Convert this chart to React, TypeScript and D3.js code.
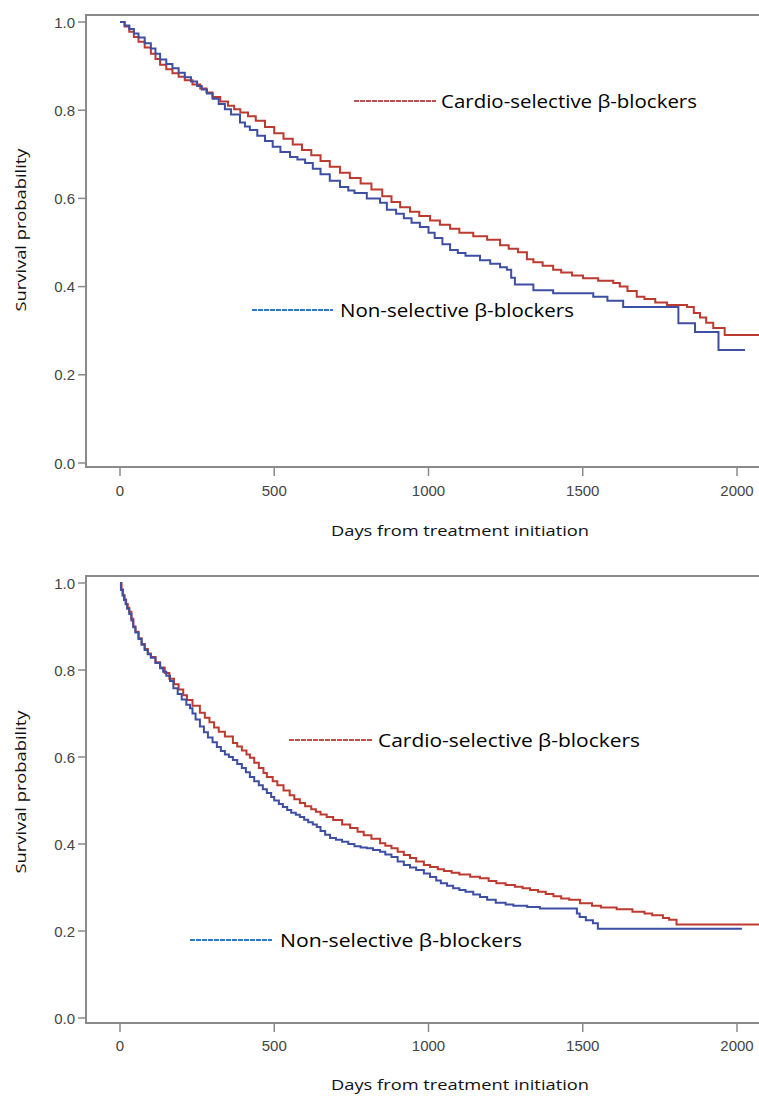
import React from "react";
import * as d3 from "d3";

// ---------- DATA ----------
const xTicks = [0, 500, 1000, 1500, 2000];
const yTicks = [0, 0.2, 0.4, 0.6, 0.8, 1.0];
const xTitle = "Days from treatment initiation";
const yTitle = "Survival probability";
const seriesNames = ["Cardio-selective β-blockers", "Non-selective β-blockers"];

// Panel A (top)
const topCardioDays = [0, 15, 30, 45, 60, 80, 100, 115, 130, 150, 170, 190, 210, 235, 260, 280, 300, 325, 350, 370, 390, 415, 440, 470, 500, 530, 560, 590, 620, 650, 680, 713, 745, 780, 815, 850, 880, 908, 940, 970, 1005, 1037, 1070, 1100, 1145, 1190, 1232, 1260, 1290, 1319, 1340, 1370, 1404, 1430, 1465, 1501, 1550, 1599, 1620, 1645, 1675, 1700, 1735, 1773, 1838, 1860, 1880, 1900, 1923, 1960, 2090];
const topCardioSurv = [1.0, 0.99, 0.978, 0.966, 0.955, 0.942, 0.928, 0.916, 0.903, 0.893, 0.884, 0.876, 0.868, 0.858, 0.849, 0.84, 0.83, 0.82, 0.81, 0.802, 0.795, 0.786, 0.776, 0.762, 0.748, 0.735, 0.722, 0.71, 0.698, 0.685, 0.672, 0.658, 0.646, 0.634, 0.62, 0.605, 0.592, 0.58, 0.57, 0.56, 0.55, 0.54, 0.531, 0.522, 0.514, 0.506, 0.494, 0.486, 0.478, 0.462, 0.455, 0.447, 0.438, 0.432, 0.425, 0.419, 0.413, 0.408, 0.4, 0.39, 0.377, 0.372, 0.364, 0.358, 0.354, 0.34, 0.33, 0.318, 0.306, 0.29, 0.29];

const topNonDays = [0, 15, 30, 45, 60, 80, 100, 115, 130, 150, 170, 190, 210, 230, 250, 265, 282, 300, 320, 340, 360, 389, 405, 421, 445, 470, 495, 520, 551, 575, 600, 625, 650, 680, 713, 740, 760, 800, 843, 865, 895, 920, 945, 972, 1000, 1020, 1045, 1070, 1095, 1120, 1167, 1200, 1232, 1254, 1268, 1280, 1340, 1404, 1534, 1580, 1631, 1810, 1864, 1940, 2026];
const topNonSurv = [1.0, 0.992, 0.984, 0.974, 0.965, 0.952, 0.94, 0.928, 0.915, 0.905, 0.895, 0.885, 0.875, 0.865, 0.855, 0.847, 0.838, 0.826, 0.814, 0.802, 0.79, 0.772, 0.763, 0.755, 0.742, 0.73, 0.717, 0.705, 0.694, 0.688, 0.68, 0.667, 0.655, 0.64, 0.626, 0.618, 0.612, 0.6, 0.59, 0.574, 0.565, 0.555, 0.545, 0.535, 0.522, 0.51, 0.496, 0.483, 0.476, 0.47, 0.46, 0.452, 0.444, 0.438, 0.42, 0.405, 0.392, 0.385, 0.377, 0.368, 0.354, 0.317, 0.297, 0.256, 0.256];

// Panel B (bottom)
const botCardioDays = [0, 5, 10, 15, 20, 25, 30, 37, 43, 50, 60, 70, 80, 90, 100, 115, 130, 145, 160, 175, 190, 205, 217, 235, 259, 275, 290, 305, 320, 340, 366, 380, 395, 410, 421, 435, 450, 465, 476, 495, 510, 530, 550, 565, 583, 600, 620, 635, 650, 670, 691, 720, 746, 770, 790, 815, 843, 860, 880, 900, 920, 940, 960, 985, 1005, 1030, 1050, 1075, 1100, 1135, 1167, 1195, 1220, 1250, 1280, 1305, 1329, 1355, 1380, 1405, 1430, 1456, 1491, 1530, 1559, 1610, 1661, 1700, 1725, 1760, 1780, 1804, 2090];
const botCardioSurv = [1.0, 0.985, 0.972, 0.962, 0.952, 0.943, 0.934, 0.918, 0.9, 0.888, 0.873, 0.86, 0.848, 0.838, 0.83, 0.818, 0.806, 0.793, 0.78, 0.767, 0.755, 0.742, 0.731, 0.718, 0.702, 0.69, 0.68, 0.668, 0.658, 0.647, 0.632, 0.624, 0.615, 0.606, 0.598, 0.587, 0.575, 0.563, 0.554, 0.544, 0.535, 0.523, 0.512, 0.503, 0.494, 0.487, 0.48, 0.474, 0.468, 0.462, 0.455, 0.445, 0.437, 0.428, 0.42, 0.412, 0.402, 0.396, 0.39, 0.382, 0.375, 0.368, 0.36, 0.352, 0.347, 0.342, 0.338, 0.334, 0.33, 0.325, 0.321, 0.315, 0.31, 0.306, 0.302, 0.298, 0.294, 0.29, 0.285, 0.28, 0.275, 0.272, 0.264, 0.258, 0.254, 0.25, 0.244, 0.24, 0.236, 0.23, 0.226, 0.215, 0.215];

const botNonDays = [0, 3, 8, 13, 18, 23, 30, 37, 43, 50, 60, 70, 80, 90, 100, 115, 130, 140, 150, 162, 173, 187, 200, 215, 227, 235, 245, 259, 272, 285, 300, 314, 327, 340, 353, 366, 380, 395, 408, 421, 435, 450, 463, 476, 490, 500, 515, 528, 542, 555, 570, 583, 597, 610, 625, 638, 650, 665, 681, 700, 720, 740, 760, 780, 800, 820, 843, 860, 880, 900, 920, 940, 960, 985, 1005, 1025, 1040, 1060, 1080, 1100, 1120, 1145, 1167, 1190, 1218, 1250, 1275, 1320, 1361, 1472, 1481, 1490, 1510, 1533, 1549, 2016];
const botNonSurv = [1.0, 0.984, 0.971, 0.961, 0.951, 0.941, 0.929, 0.914, 0.898, 0.886, 0.871, 0.858, 0.846, 0.836, 0.828, 0.816, 0.804, 0.796, 0.787, 0.775, 0.758, 0.745, 0.732, 0.72, 0.712, 0.7, 0.686, 0.67, 0.657, 0.645, 0.634, 0.623, 0.614, 0.606, 0.6, 0.593, 0.584, 0.575, 0.565, 0.554, 0.544, 0.535, 0.526, 0.517, 0.508, 0.5, 0.492, 0.485, 0.478, 0.472, 0.467, 0.462, 0.456, 0.45, 0.445, 0.439, 0.43, 0.421, 0.414, 0.41, 0.405, 0.4, 0.395, 0.392, 0.39, 0.386, 0.382, 0.376, 0.37, 0.36, 0.352, 0.346, 0.34, 0.332, 0.324, 0.316, 0.31, 0.304, 0.298, 0.294, 0.29, 0.284, 0.278, 0.272, 0.265, 0.261, 0.258, 0.255, 0.252, 0.252, 0.24, 0.232, 0.225, 0.218, 0.205, 0.205];

// ---------- LAYOUT / STYLE ----------
const W = 759;
const H = 1097;
const RED = "#bc3a2f";
const BLUE = "#3e4fa3";
const LEG_RED = "#c0504d";
const LEG_BLUE = "#2a78d0";
const AXIS = "#8a8a8a";
const TICK_TEXT = "#444";
const LABEL_FONT = "'Open Sans', 'Noto Sans', sans-serif";
const TICK_FONT = "'Liberation Sans', Arial, sans-serif";

type Panel = {
  frameTop: number;
  axisY: number;
  y0: number;
  y1: number;
  tickLabelY: number;
  xTitleY: number;
  yTitleY: number;
  cardio: [number[], number[]];
  non: [number[], number[]];
  legCardio: { x1: number; x2: number; y: number; tx: number; tw: number };
  legNon: { x1: number; x2: number; y: number; tx: number; tw: number };
};

const panels: Panel[] = [
  {
    frameTop: 15,
    axisY: 467,
    y0: 463,
    y1: 22,
    tickLabelY: 490,
    xTitleY: 530,
    yTitleY: 230,
    cardio: [topCardioDays, topCardioSurv],
    non: [topNonDays, topNonSurv],
    legCardio: { x1: 354, x2: 436, y: 101, tx: 441, tw: 256 },
    legNon: { x1: 252, x2: 333, y: 310, tx: 340, tw: 234 },
  },
  {
    frameTop: 576,
    axisY: 1023,
    y0: 1018,
    y1: 583,
    tickLabelY: 1045,
    xTitleY: 1084,
    yTitleY: 792,
    cardio: [botCardioDays, botCardioSurv],
    non: [botNonDays, botNonSurv],
    legCardio: { x1: 289, x2: 372, y: 740, tx: 378, tw: 262 },
    legNon: { x1: 190, x2: 272, y: 940, tx: 280, tw: 242 },
  },
];

const xLeft = 86;
const xRightEdge = 775;

const x = d3.scaleLinear().domain([0, 2000]).range([120, 737]);

function PanelView({ p }: { p: Panel }) {
  const y = d3.scaleLinear().domain([0, 1]).range([p.y0, p.y1]);
  const line = d3
    .line<[number, number]>()
    .x((d) => x(d[0]))
    .y((d) => y(d[1]))
    .curve(d3.curveStepAfter);
  const pts = (s: [number[], number[]]) =>
    s[0].map((d, i) => [d, s[1][i]] as [number, number]);

  return (
    <g>
      {/* frame */}
      <line x1={xLeft - 1} x2={xRightEdge} y1={p.frameTop} y2={p.frameTop} stroke={AXIS} strokeWidth={2} />
      <line x1={xLeft} x2={xLeft} y1={p.frameTop} y2={p.axisY + 1} stroke={AXIS} strokeWidth={2} />
      <line x1={xLeft - 1} x2={xRightEdge} y1={p.axisY} y2={p.axisY} stroke={AXIS} strokeWidth={2} />

      {/* y ticks */}
      {yTicks.map((t) => (
        <g key={"y" + t}>
          <line x1={xLeft - 8} x2={xLeft} y1={y(t)} y2={y(t)} stroke={AXIS} strokeWidth={1.5} />
          <text
            x={xLeft - 11}
            y={y(t)}
            textAnchor="end"
            dominantBaseline="central"
            fontFamily={TICK_FONT}
            fontSize={15}
            fill={TICK_TEXT}
          >
            {d3.format(".1f")(t)}
          </text>
        </g>
      ))}

      {/* x ticks */}
      {xTicks.map((t) => (
        <g key={"x" + t}>
          <line x1={x(t)} x2={x(t)} y1={p.axisY} y2={p.axisY + 9} stroke={AXIS} strokeWidth={1.5} />
          <text
            x={x(t)}
            y={p.tickLabelY}
            textAnchor="middle"
            dominantBaseline="central"
            fontFamily={TICK_FONT}
            fontSize={15}
            fill={TICK_TEXT}
          >
            {t}
          </text>
        </g>
      ))}

      {/* titles */}
      <text
        x={460}
        y={p.xTitleY}
        textAnchor="middle"
        dominantBaseline="central"
        fontFamily={LABEL_FONT}
        fontSize={15}
        fill="#111"
        textLength={258}
        lengthAdjust="spacingAndGlyphs"
      >
        {xTitle}
      </text>
      <text
        transform={`translate(20,${p.yTitleY}) rotate(-90)`}
        textAnchor="middle"
        dominantBaseline="central"
        fontFamily={LABEL_FONT}
        fontSize={15}
        fill="#111"
        textLength={163}
        lengthAdjust="spacingAndGlyphs"
      >
        {yTitle}
      </text>

      {/* curves */}
      <path d={line(pts(p.cardio)) || ""} fill="none" stroke={RED} strokeWidth={2} />
      <path d={line(pts(p.non)) || ""} fill="none" stroke={BLUE} strokeWidth={2} />

      {/* legend */}
      <line x1={p.legCardio.x1} x2={p.legCardio.x2} y1={p.legCardio.y} y2={p.legCardio.y} stroke={LEG_RED} strokeWidth={2} strokeDasharray="5 1" />
      <text
        x={p.legCardio.tx}
        y={p.legCardio.y}
        dominantBaseline="central"
        fontFamily={LABEL_FONT}
        fontSize={18}
        fill="#000"
        textLength={p.legCardio.tw}
        lengthAdjust="spacingAndGlyphs"
      >
        {seriesNames[0]}
      </text>
      <line x1={p.legNon.x1} x2={p.legNon.x2} y1={p.legNon.y} y2={p.legNon.y} stroke={LEG_BLUE} strokeWidth={2} strokeDasharray="5 1" />
      <text
        x={p.legNon.tx}
        y={p.legNon.y}
        dominantBaseline="central"
        fontFamily={LABEL_FONT}
        fontSize={18}
        fill="#000"
        textLength={p.legNon.tw}
        lengthAdjust="spacingAndGlyphs"
      >
        {seriesNames[1]}
      </text>
    </g>
  );
}

export default function App() {
  return (
    <svg
      width={W}
      height={H}
      viewBox={`0 0 ${W} ${H}`}
      style={{ position: "absolute", left: 0, top: 0, background: "#fff" }}
    >
      <rect x={0} y={0} width={W} height={H} fill="#fff" />
      {panels.map((p, i) => (
        <PanelView key={i} p={p} />
      ))}
    </svg>
  );
}
